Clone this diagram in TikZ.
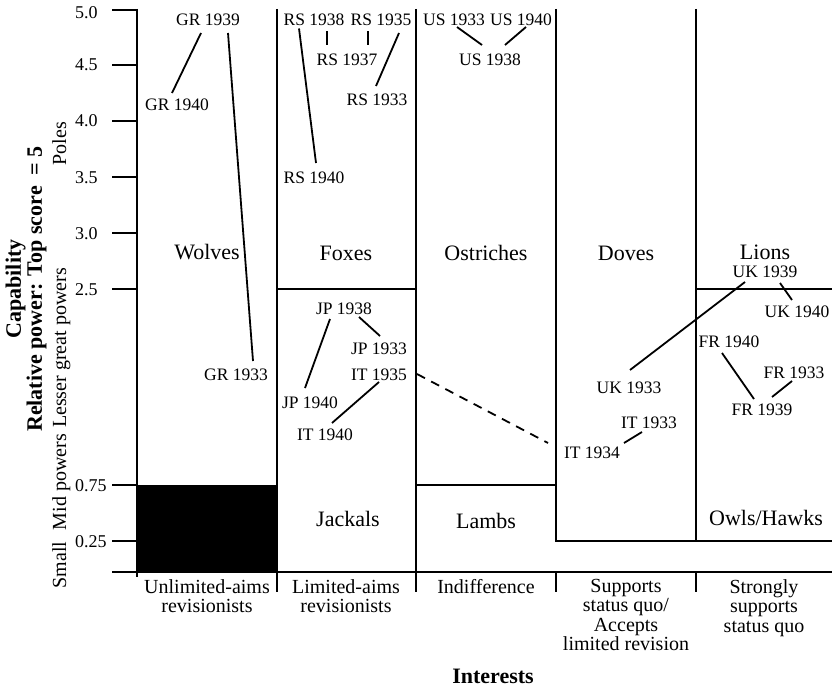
\documentclass[tikz,border=0pt]{standalone}
\usepackage{fontspec}
\setmainfont{Liberation Serif}
\usetikzlibrary{calc}

\begin{document}
\begin{tikzpicture}[x=1pt,y=-1pt,
  grid/.style={black,line width=2pt},
  link/.style={black,line width=1.8pt},
  year/.style={font=\fontsize{17.5}{20}\selectfont,text height=12pt,text depth=0pt},
  kind/.style={font=\fontsize{22}{24}\selectfont,text height=15pt,text depth=0pt},
  ticklab/.style={font=\fontsize{18}{20}\selectfont,anchor=west,text height=12pt,text depth=0pt},
  side/.style={font=\fontsize{20}{22}\selectfont,rotate=90,anchor=base},
  interest/.style={font=\fontsize{20}{19.5}\selectfont,align=center,anchor=north}]
\tikzstyle{every node}+=[inner sep=0pt]
\useasboundingbox (0,0) rectangle (832,687);
\fill [black] (137,485) rectangle (277,572);
\draw [grid] (137,9) -- (137,577);
\draw [grid] (112,572) -- (832,572);
\foreach \y in {10,65,121,177,233,289,485,541}
  \draw [grid] (112,\y) -- (137,\y);
\draw [grid] (277,9) -- (277,592);
\draw [grid] (416,9) -- (416,592);
\draw [grid] (556,9) -- (556,541) -- (832,541);
\draw [grid] (696,9) -- (696,541);
\draw [grid] (556,572) -- (556,592);
\draw [grid] (696,572) -- (696,592);
\draw [grid] (277,289) -- (416,289);
\draw [grid] (696,289) -- (832,289);
\draw [grid] (416,485) -- (556,485);
\foreach \v/\y in {5.0/13,4.5/65,4.0/121,3.5/177,3.0/233,2.5/289,0.75/485,0.25/541}
  \node [ticklab] (tick\y) at (75,\y) {\v};
\node [font=\bfseries\fontsize{22}{21}\selectfont,rotate=90,align=center] (capability) at (26,289) {Capability\\Relative power: Top score\ \ = 5};
\node [side] (poles) at (66,143.5) {Poles};
\node [side] (lesser) at (66,348) {Lesser great powers};
\node [side] (mid) at (66,482) {Mid powers};
\node [side] (small) at (66,565) {Small};
\node [kind] (wolves) at (207,252) {Wolves};
\node [kind] (foxes) at (346,253) {Foxes};
\node [kind] (ostriches) at (486,253) {Ostriches};
\node [kind] (doves) at (626,253) {Doves};
\node [kind] (lions) at (765,252) {Lions};
\node [kind] (jackals) at (348,519) {Jackals};
\node [kind] (lambs) at (486,521) {Lambs};
\node [kind] (owls) at (766,518) {Owls/Hawks};
\node [year] (gr39) at (208,19.5) {GR 1939};
\node [year] (gr40) at (177,105) {GR 1940};
\node [year] (gr33) at (236,374) {GR 1933};
\node [year] (rs38) at (314,19.5) {RS 1938};
\node [year] (rs35) at (381,19.5) {RS 1935};
\node [year] (rs37) at (347,60) {RS 1937};
\node [year] (rs33) at (377,100) {RS 1933};
\node [year] (rs40) at (314,177) {RS 1940};
\node [year] (us33) at (454,19.5) {US 1933};
\node [year] (us40) at (521,19.5) {US 1940};
\node [year] (us38) at (490,60) {US 1938};
\node [year] (jp38) at (344,308) {JP 1938};
\node [year] (jp33) at (379,348) {JP 1933};
\node [year] (it35) at (379,374) {IT 1935};
\node [year] (jp40) at (310,402) {JP 1940};
\node [year] (it40) at (325,434) {IT 1940};
\node [year] (uk39) at (765,271) {UK 1939};
\node [year] (uk40) at (797,311) {UK 1940};
\node [year] (uk33) at (629,387) {UK 1933};
\node [year] (it33) at (649,422) {IT 1933};
\node [year] (it34) at (592,452) {IT 1934};
\node [year] (fr40) at (729,341) {FR 1940};
\node [year] (fr33) at (794,372) {FR 1933};
\node [year] (fr39) at (762,409) {FR 1939};
\draw [link] ($(gr39)+(-7,13.5)$) -- ($(gr40)+(-5,-12)$);
\draw [link] ($(gr39)+(20,13.5)$) -- ($(gr33)+(17,-13)$);
\draw [link] ($(rs38)+(-15,9)$) -- ($(rs40)+(2,-14)$);
\draw [link] ($(rs38)+(13,12)$) -- ($(rs37)+(-20,-15)$);
\draw [link] ($(rs35)+(-13,12)$) -- ($(rs37)+(21,-15)$);
\draw [link] ($(rs35)+(18,13.5)$) -- ($(rs33)+(-1,-14)$);
\draw [link] ($(us33)+(3,7.5)$) -- ($(us38)+(-8,-15)$);
\draw [link] ($(us40)+(5,7.5)$) -- ($(us38)+(15,-15)$);
\draw [link] ($(jp38)+(-14,11)$) -- ($(jp40)+(-5,-14)$);
\draw [link] ($(jp38)+(15,9)$) -- ($(jp33)+(1,-12)$);
\draw [link] ($(it35)+(0,8)$) -- ($(it40)+(7,-11)$);
\draw [link,dash pattern=on 9pt off 7pt] ($(it35)+(38,0)$) -- ($(it34)+(-44,-9)$);
\draw [link] ($(it33)+(-7,10)$) -- ($(it34)+(32,-9)$);
\draw [link] ($(uk39)+(-20,11)$) -- ($(uk33)+(1,-17)$);
\draw [link] ($(uk39)+(15,12)$) -- ($(uk40)+(-5,-11)$);
\draw [link] ($(fr40)+(-7,12)$) -- ($(fr39)+(-8,-10)$);
\draw [link] ($(fr33)+(-2,9)$) -- ($(fr39)+(10,-12)$);
\node [interest] (unlimited) at (207,579) {Unlimited-aims\\revisionists};
\node [interest] (limited) at (346,579) {Limited-aims\\revisionists};
\node [interest] (indiff) at (486,579) {Indifference};
\node [interest] (supports) at (626,579) {Supports\\status quo/\\Accepts\\limited revision};
\node [interest] (strongly) at (764,579) {Strongly\\supports\\status quo};
\node [font=\bfseries\fontsize{22}{24}\selectfont,anchor=base] (interests) at (493,683) {Interests};
\end{tikzpicture}
\end{document}
